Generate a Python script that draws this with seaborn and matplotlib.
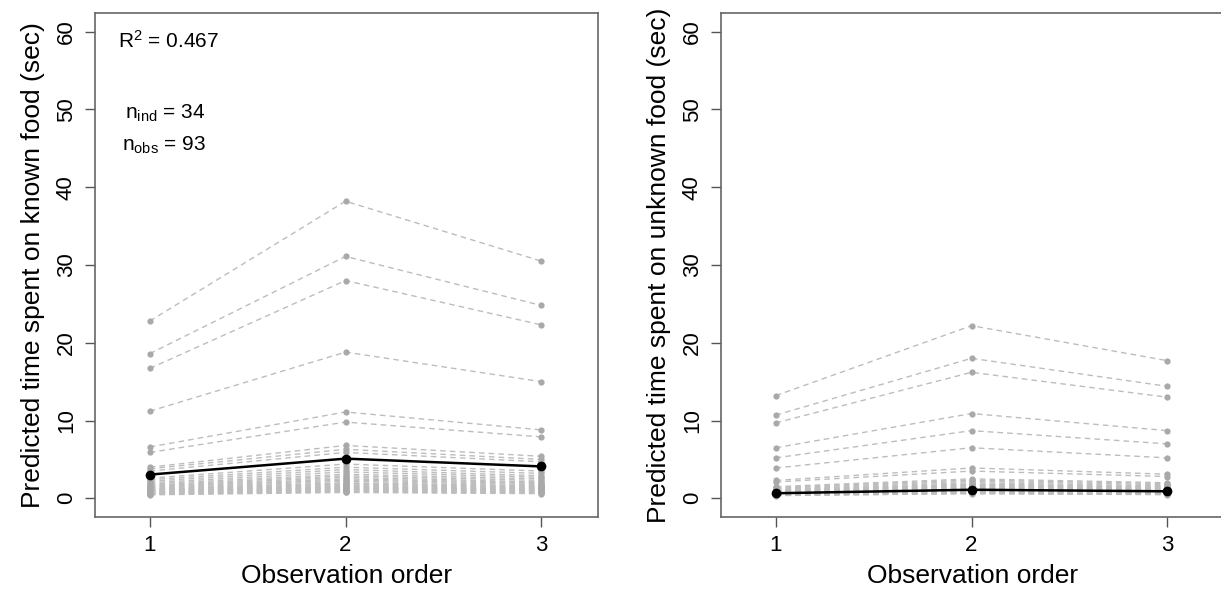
import numpy as np
import pandas as pd
import matplotlib
matplotlib.use("Agg")
import matplotlib.pyplot as plt
import seaborn as sns

# Observation occasions
obs_order = [1, 2, 3]

# Individual predictions, known food (one entry per individual, by occasion)
known_obs1 = [22.8, 18.6, 16.7, 11.2, 6.6, 5.9, 4.0, 3.8, 3.5, 2.6, 2.4, 2.2, 2.0, 1.85, 1.7, 1.6, 1.5,
              1.4, 1.3, 1.2, 1.15, 1.1, 1.0, 0.95, 0.9, 0.85, 0.8, 0.75, 0.7, 0.65, 0.6, 0.55, 0.5, 0.45]
known_obs2 = [38.2, 31.1, 28.0, 18.8, 11.1, 9.8, 6.8, 6.3, 5.9, 4.4, 4.0, 3.7, 3.4, 3.1, 2.9, 2.7, 2.5,
              2.35, 2.2, 2.0, 1.9, 1.85, 1.7, 1.6, 1.5, 1.4, 1.35, 1.25, 1.2, 1.1, 1.0, 0.9, 0.85, 0.75]
known_obs3 = [30.5, 24.8, 22.3, 15.0, 8.8, 7.9, 5.4, 5.0, 4.7, 3.5, 3.2, 2.9, 2.7, 2.5, 2.3, 2.1, 2.0,
              1.9, 1.75, 1.6, 1.55, 1.45, 1.35, 1.3, 1.2, 1.15, 1.05, 1.0, 0.95, 0.85, 0.8, 0.75, 0.65, 0.6]
known_mean = [3.05, 5.1, 4.1]

# Individual predictions, unknown food
unknown_obs1 = [13.2, 10.7, 9.7, 6.5, 5.2, 3.9, 2.3, 2.1, 1.5, 1.4, 1.3, 1.2, 1.1, 1.05, 1.0, 0.95, 0.9,
                0.85, 0.8, 0.75, 0.72, 0.7, 0.65, 0.62, 0.6, 0.55, 0.52, 0.5, 0.47, 0.45, 0.42, 0.4, 0.37, 0.35]
unknown_obs2 = [22.2, 18.0, 16.2, 10.9, 8.7, 6.5, 3.9, 3.5, 2.5, 2.35, 2.2, 2.0, 1.85, 1.75, 1.7, 1.6, 1.5,
                1.45, 1.35, 1.25, 1.2, 1.15, 1.1, 1.05, 1.0, 0.92, 0.87, 0.85, 0.8, 0.75, 0.7, 0.67, 0.62, 0.6]
unknown_obs3 = [17.7, 14.4, 13.0, 8.7, 7.0, 5.2, 3.1, 2.8, 2.0, 1.9, 1.75, 1.6, 1.5, 1.4, 1.35, 1.3, 1.2,
                1.15, 1.1, 1.0, 0.95, 0.92, 0.87, 0.83, 0.8, 0.75, 0.7, 0.67, 0.63, 0.6, 0.57, 0.53, 0.5, 0.47]
unknown_mean = [0.65, 1.1, 0.9]

y_ticks = [0, 10, 20, 30, 40, 50, 60]
x_ticks = [1, 2, 3]


def long_frame(o1, o2, o3):
    rows = []
    for i, vals in enumerate(zip(o1, o2, o3)):
        for occ, v in zip(obs_order, vals):
            rows.append({"ind": i, "order": occ, "time": v})
    return pd.DataFrame(rows)


sns.set_style("white")
plt.rcParams["font.family"] = ["Liberation Sans", "DejaVu Sans"]
plt.rcParams["mathtext.fontset"] = "custom"
plt.rcParams["mathtext.rm"] = "Liberation Sans"
plt.rcParams["mathtext.it"] = "Liberation Sans"
plt.rcParams["text.color"] = "black"
plt.rcParams["axes.labelcolor"] = "black"
plt.rcParams["xtick.color"] = "black"
plt.rcParams["ytick.color"] = "black"

fig = plt.figure(figsize=(12.21, 5.96), dpi=100)
ax1 = fig.add_axes([0.0778, 0.1326, 0.412, 0.8456])
ax2 = fig.add_axes([0.5905, 0.1326, 0.412, 0.8456])

panels = [
    (ax1, long_frame(known_obs1, known_obs2, known_obs3), known_mean,
     "Predicted time spent on known food (sec)"),
    (ax2, long_frame(unknown_obs1, unknown_obs2, unknown_obs3), unknown_mean,
     "Predicted time spent on unknown food (sec)"),
]

grey_line = "#bdbdbd"
grey_pt = "#a9a9a9"

for ax, df, mean_vals, ylab in panels:
    sns.lineplot(data=df, x="order", y="time", units="ind", estimator=None,
                 color=grey_line, linewidth=1.0, linestyle=(0, (4, 3)), ax=ax,
                 marker="o", markersize=4.5, markerfacecolor=grey_pt,
                 markeredgewidth=0, legend=False)
    mean_df = pd.DataFrame({"order": obs_order, "time": mean_vals})
    sns.lineplot(data=mean_df, x="order", y="time", color="black", linewidth=1.8,
                 marker="o", markersize=7, markeredgewidth=0, ax=ax, legend=False)

    ax.set_xlim(0.72, 3.29)
    ax.set_ylim(-2.4, 62.4)
    ax.set_xticks(x_ticks)
    ax.set_yticks(y_ticks)
    ax.set_yticklabels([str(t) for t in y_ticks], rotation=90, va="center")
    ax.tick_params(axis="both", direction="out", length=7, width=1, color="#555555",
                   labelsize=16, pad=6, bottom=True, left=True)
    ax.set_xlabel("Observation order", fontsize=19, labelpad=6)
    ax.set_ylabel(ylab, fontsize=19, labelpad=8)
    for s in ax.spines.values():
        s.set_color("#666666")
        s.set_linewidth(1.2)

ax1.text(0.045, 0.945, r"R$^2$ = 0.467", transform=ax1.transAxes, fontsize=15,
         ha="left", va="center")
ax1.text(0.22, 0.8, r"n$_{\rm ind}$ = 34", transform=ax1.transAxes, fontsize=15,
         ha="right", va="center")
ax1.text(0.22, 0.738, r"n$_{\rm obs}$ = 93", transform=ax1.transAxes, fontsize=15,
         ha="right", va="center")

fig.savefig("out.png", dpi=100)
